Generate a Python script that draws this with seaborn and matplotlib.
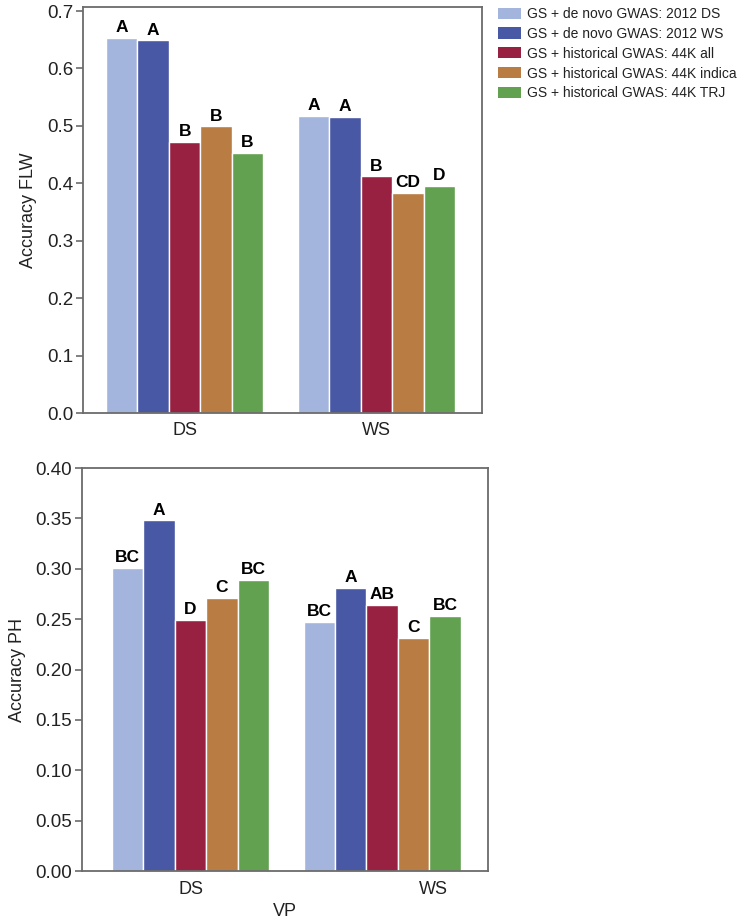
import matplotlib
matplotlib.use("Agg")
import matplotlib.pyplot as plt
from matplotlib.patches import Patch
from matplotlib.transforms import ScaledTranslation
import seaborn as sns
import pandas as pd

sns.set_style("white")
plt.rcParams['font.family'] = ['Liberation Sans', 'DejaVu Sans']

groups = ["DS", "WS"]
methods = ["GS + de novo GWAS: 2012 DS",
           "GS + de novo GWAS: 2012 WS",
           "GS + historical GWAS: 44K all",
           "GS + historical GWAS: 44K indica",
           "GS + historical GWAS: 44K TRJ"]
colors = ["#A3B4DD", "#4858A4", "#982141", "#B97C43", "#62A14F"]

flw_ds = [0.653, 0.649, 0.472, 0.499, 0.453]
flw_ws = [0.518, 0.516, 0.412, 0.383, 0.395]
flw_let_ds = ["A", "A", "B", "B", "B"]
flw_let_ws = ["A", "A", "B", "CD", "D"]

ph_ds = [0.301, 0.348, 0.249, 0.271, 0.289]
ph_ws = [0.247, 0.281, 0.264, 0.231, 0.253]
ph_let_ds = ["BC", "A", "D", "C", "BC"]
ph_let_ws = ["BC", "A", "AB", "C", "BC"]


def make_df(ds, ws, lds, lws):
    rows = []
    for g, vals, lets in (("DS", ds, lds), ("WS", ws, lws)):
        for m, v, l in zip(methods, vals, lets):
            rows.append({"VP": g, "method": m, "value": v, "letter": l})
    return pd.DataFrame(rows)


df_flw = make_df(flw_ds, flw_ws, flw_let_ds, flw_let_ws)
df_ph = make_df(ph_ds, ph_ws, ph_let_ds, ph_let_ws)

W, H = 747, 921
fig = plt.figure(figsize=(W / 100, H / 100), dpi=100)
ax1 = fig.add_axes([83 / W, 1 - 413 / H, (482 - 83) / W, (413 - 7) / H])
ax2 = fig.add_axes([82 / W, 1 - 871 / H, (488 - 82) / W, (871 - 468) / H])

spine_col = "#6b6b6b"
text_col = "#222222"


def draw(ax, df, ylabel, ylim, yticks, fmt, xlim, xpad):
    sns.barplot(data=df, x="VP", y="value", hue="method", order=groups,
                hue_order=methods, palette=colors, width=0.82,
                edgecolor="white", linewidth=1.0, saturation=1,
                legend=False, ax=ax, errorbar=None)
    for cont, m in zip(ax.containers, methods):
        labs = [df[(df.method == m) & (df.VP == g)].letter.iloc[0] for g in groups]
        ax.bar_label(cont, labels=labs, padding=2, fontsize=12.5,
                     fontweight="bold", color="black")
    ax.set_ylim(*ylim)
    ax.set_xlim(*xlim)
    ax.set_yticks(yticks)
    ax.set_yticklabels([fmt.format(t) for t in yticks])
    ax.set_ylabel(ylabel, fontsize=13, color=text_col, labelpad=7)
    ax.tick_params(axis="y", left=True, length=5, width=1.2, color=spine_col,
                   labelsize=13.5, labelcolor=text_col, pad=2)
    ax.tick_params(axis="x", bottom=False, labelsize=13, labelcolor=text_col, pad=xpad)
    for s in ax.spines.values():
        s.set_color(spine_col)
        s.set_linewidth(1.3)


draw(ax1, df_flw, "Accuracy FLW", (0, 0.707),
     [0.0, 0.1, 0.2, 0.3, 0.4, 0.5, 0.6, 0.7], "{:.1f}", (-0.53, 1.55), 3)
ax1.set_xlabel("")

draw(ax2, df_ph, "Accuracy PH", (0, 0.40),
     [0.0, 0.05, 0.10, 0.15, 0.20, 0.25, 0.30, 0.35, 0.40], "{:.2f}", (-0.567, 1.553), 4)
ax2.set_xlabel("VP", fontsize=13, color=text_col, labelpad=3)
lab = ax2.get_xticklabels()[1]
lab.set_transform(lab.get_transform() + ScaledTranslation(0.51, 0, fig.dpi_scale_trans))

handles = [Patch(facecolor=c, edgecolor="none") for c in colors]
fig.legend(handles, methods, loc="upper left", bbox_to_anchor=(498 / W, 1 - 7 / H),
           frameon=False, fontsize=10, handlelength=1.65, handleheight=0.85,
           handletextpad=0.45, labelspacing=0.42, borderaxespad=0, borderpad=0,
           labelcolor=text_col)

fig.savefig("out.png", dpi=100)
